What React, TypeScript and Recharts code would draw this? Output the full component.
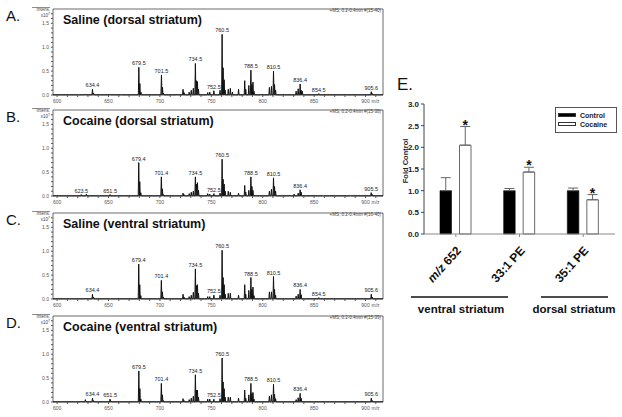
import {
  LineChart,
  Line,
  XAxis,
  YAxis,
  ReferenceArea,
  ReferenceDot,
  BarChart,
  Bar,
  ErrorBar,
  LabelList,
} from 'recharts';

type Peak = [number, number];

const FONT = '"Liberation Sans", Arial, sans-serif';

// spectra axes
const mzTicks = [600, 610, 620, 630, 640, 650, 660, 670, 680, 690, 700, 710, 720, 730, 740, 750, 760, 770, 780, 790, 800, 810, 820, 830, 840, 850, 860, 870, 880, 890, 900, 910];
const intensTicks = [0, 0.1, 0.2, 0.3, 0.4, 0.5, 0.6, 0.7, 0.8, 0.9, 1.0, 1.1, 1.2, 1.3, 1.4, 1.5, 1.6, 1.7];
const intensLabels = ['0.0', '0.5', '1.0', '1.5'];

const panelLetters = ['A.', 'B.', 'C.', 'D.'];
const panelTitles = ['Saline (dorsal striatum)', 'Cocaine (dorsal striatum)', 'Saline (ventral striatum)', 'Cocaine (ventral striatum)'];
const panelScans = ['+MS, 0.2-0.4min #(15-40)', '+MS, 0.2-0.4min #(15-38)', '+MS, 0.2-0.4min #(16-40)', '+MS, 0.2-0.4min #(15-39)'];

// peaks: [m/z, intensity x10^7]
const salineDorsalPeaks: Peak[] = [
  [620.5, 0.01], [627.5, 0.02], [634.4, 0.12], [635.4, 0.04], [651.5, 0.02], [662.5, 0.01],
  [679.5, 0.58], [680.5, 0.24], [681.5, 0.06], [701.5, 0.42], [702.5, 0.16], [703.5, 0.04],
  [716.5, 0.02], [722.5, 0.12], [723.5, 0.05], [728.5, 0.06], [730.5, 0.1], [732.5, 0.14],
  [734.5, 0.66], [735.5, 0.3], [736.5, 0.28], [737.5, 0.12], [746.5, 0.05], [748.5, 0.06],
  [752.5, 0.09], [758.5, 0.1], [760.5, 1.27], [761.5, 0.57], [762.5, 0.32], [763.5, 0.1],
  [766.5, 0.12], [768.5, 0.14], [770.5, 0.06], [776.5, 0.12], [782.5, 0.3], [783.5, 0.12],
  [786.5, 0.2], [788.5, 0.52], [789.5, 0.22], [790.5, 0.27], [791.5, 0.08], [798.5, 0.02],
  [806.5, 0.16], [808.5, 0.18], [810.5, 0.5], [811.5, 0.22], [812.5, 0.1], [820.5, 0.02],
  [832.5, 0.08], [834.5, 0.13], [836.4, 0.23], [837.4, 0.1], [838.5, 0.08], [854.5, 0.03],
  [880.5, 0.01], [905.6, 0.07], [906.6, 0.03],
];
const salineDorsalLabels = ['634.4', '679.5', '701.5', '734.5', '752.5', '760.5', '788.5', '810.5', '836.4', '854.5', '905.6'];

const cocaineDorsalPeaks: Peak[] = [
  [623.5, 0.03], [628.5, 0.04], [640.5, 0.01], [651.5, 0.03], [665.5, 0.01],
  [679.4, 0.7], [680.4, 0.3], [681.4, 0.07], [701.4, 0.4], [702.4, 0.15], [703.4, 0.03],
  [722.5, 0.06], [723.5, 0.03], [728.5, 0.05], [730.5, 0.08], [732.5, 0.1],
  [734.5, 0.4], [735.5, 0.25], [736.5, 0.28], [737.5, 0.12], [746.5, 0.05], [748.5, 0.04],
  [752.5, 0.05], [758.5, 0.06], [760.5, 0.77], [761.5, 0.35], [762.5, 0.25], [763.5, 0.1],
  [766.5, 0.1], [768.5, 0.08], [776.5, 0.06], [782.5, 0.22], [783.5, 0.08], [786.5, 0.12],
  [788.5, 0.4], [789.5, 0.2], [790.5, 0.12], [806.5, 0.1], [808.5, 0.14], [810.5, 0.38],
  [811.5, 0.2], [812.5, 0.1], [826.5, 0.02], [830.5, 0.04], [834.5, 0.06], [836.4, 0.13],
  [837.4, 0.08], [858.5, 0.01], [885.5, 0.01], [905.5, 0.07], [906.5, 0.03],
];
const cocaineDorsalLabels = ['623.5', '651.5', '679.4', '701.4', '734.5', '752.5', '760.5', '788.5', '810.5', '836.4', '905.5'];

const salineVentralPeaks: Peak[] = [
  [627.5, 0.02], [634.4, 0.1], [635.4, 0.04], [651.5, 0.01],
  [679.4, 0.73], [680.4, 0.3], [681.4, 0.07], [701.4, 0.39], [702.4, 0.15], [703.4, 0.04],
  [722.5, 0.1], [723.5, 0.04], [728.5, 0.05], [730.5, 0.08], [732.5, 0.14],
  [734.5, 0.63], [735.5, 0.28], [736.5, 0.3], [737.5, 0.12], [746.5, 0.05], [748.5, 0.05],
  [752.5, 0.08], [758.5, 0.08], [760.5, 1.02], [761.5, 0.45], [762.5, 0.3], [763.5, 0.1],
  [766.5, 0.12], [768.5, 0.12], [776.5, 0.08], [782.5, 0.3], [783.5, 0.1], [786.5, 0.18],
  [788.5, 0.45], [789.5, 0.2], [790.5, 0.25], [791.5, 0.07], [806.5, 0.15], [808.5, 0.15],
  [810.5, 0.47], [811.5, 0.2], [812.5, 0.08], [832.5, 0.06], [834.5, 0.1], [836.4, 0.2],
  [837.4, 0.09], [854.5, 0.03], [905.6, 0.1], [906.6, 0.04],
];
const salineVentralLabels = ['634.4', '679.4', '701.4', '734.5', '752.5', '760.5', '788.5', '810.5', '836.4', '854.5', '905.6'];

const cocaineVentralPeaks: Peak[] = [
  [623.5, 0.02], [627.5, 0.05], [634.4, 0.08], [635.4, 0.03], [651.5, 0.06], [652.5, 0.02],
  [679.5, 0.65], [680.5, 0.28], [681.5, 0.06], [701.4, 0.39], [702.4, 0.15], [703.4, 0.03],
  [722.5, 0.07], [723.5, 0.03], [728.5, 0.05], [730.5, 0.08], [732.5, 0.12],
  [734.5, 0.57], [735.5, 0.25], [736.5, 0.25], [737.5, 0.1], [746.5, 0.06], [748.5, 0.06],
  [752.5, 0.06], [758.5, 0.07], [760.5, 0.92], [761.5, 0.42], [762.5, 0.28], [763.5, 0.1],
  [766.5, 0.1], [768.5, 0.1], [776.5, 0.08], [782.5, 0.25], [783.5, 0.08], [786.5, 0.15],
  [788.5, 0.39], [789.5, 0.18], [790.5, 0.2], [791.5, 0.06], [806.5, 0.12], [808.5, 0.15],
  [810.5, 0.37], [811.5, 0.16], [812.5, 0.07], [832.5, 0.05], [834.5, 0.09], [836.4, 0.18],
  [837.4, 0.08], [905.6, 0.08], [906.6, 0.03],
];
const cocaineVentralLabels = ['634.4', '651.5', '679.5', '701.4', '734.5', '752.5', '760.5', '788.5', '810.5', '836.4', '905.6'];

const panelPeaks = [salineDorsalPeaks, cocaineDorsalPeaks, salineVentralPeaks, cocaineVentralPeaks];
const panelPeakLabels = [salineDorsalLabels, cocaineDorsalLabels, salineVentralLabels, cocaineVentralLabels];
const panelTops = [0, 101, 204, 307];

// panel E
const lipidGroups = ['m/z 652', '33:1 PE', '35:1 PE'];
const controlFold = [1.0, 1.0, 1.0];
const controlSem = [0.3, 0.05, 0.06];
const cocaineFold = [2.05, 1.43, 0.79];
const cocaineSem = [0.43, 0.11, 0.12];
const foldTicks = [0, 0.5, 1.0, 1.5, 2.0, 2.5, 3.0];
const legendNames = ['Control', 'Cocaine'];
const regionNames = ['ventral striatum', 'dorsal striatum'];

const BASE = 0.004;

// each peak drawn as a narrow stick from the baseline
const toTrace = (peaks: Peak[]) => [
  { mz: 596, i: BASE },
  ...peaks.flatMap(([mz, h]) => [
    { mz: mz - 0.5, i: BASE },
    { mz, i: h },
    { mz: mz + 0.5, i: BASE },
  ]),
  { mz: 917, i: BASE },
];

const MzTick = ({ x, y, payload }: any) => {
  const v = payload.value;
  if (v % 50 !== 0) return null;
  return (
    <g>
      <text x={x} y={y + 4} textAnchor='middle' fontSize={5} fill='#555' fontFamily={FONT}>
        {v}
      </text>
      {v === 900 && (
        <text x={x + 6} y={y + 4} fontSize={5} fill='#555' fontFamily={FONT}>
          m/z
        </text>
      )}
    </g>
  );
};

const intensFormat = (v: number) => {
  const s = v.toFixed(1);
  return intensLabels.includes(s) ? s : '';
};

const Spectrum = ({ k }: { k: number }) => {
  const peaks = panelPeaks[k];
  return (
    <div style={{ position: 'absolute', left: 0, top: panelTops[k] }}>
      <LineChart
        width={400}
        height={103}
        data={toTrace(peaks)}
        margin={{ top: 9, right: 17, bottom: 0, left: 33 }}
      >
        <XAxis
          dataKey='mz'
          type='number'
          domain={[596, 917]}
          ticks={mzTicks}
          interval={0}
          tick={<MzTick />}
          tickSize={2}
          tickLine={{ stroke: '#555' }}
          axisLine={false}
          height={8}
          allowDataOverflow
        />
        <YAxis
          type='number'
          domain={[0, 1.8]}
          ticks={intensTicks}
          interval={0}
          width={20}
          tickSize={2}
          tickLine={{ stroke: '#555' }}
          axisLine={false}
          tick={{ fontSize: 5, fill: '#555', fontFamily: FONT }}
          tickFormatter={intensFormat}
        />
        <ReferenceArea x1={596} x2={917} y1={0} y2={1.8} fill='none' stroke='#444' strokeWidth={0.8} />
        <Line
          dataKey='i'
          type='linear'
          stroke='#111'
          strokeWidth={1}
          dot={false}
          isAnimationActive={false}
        />
        {panelPeakLabels[k].map((lab) => {
          const mz = parseFloat(lab);
          const peak = peaks.find((p) => p[0] === mz);
          return (
            <ReferenceDot
              key={lab}
              x={mz}
              y={peak ? peak[1] : 0}
              r={0}
              fill='none'
              stroke='none'
              label={{ value: lab, position: 'top', offset: 2, fontSize: 5.5, fill: '#222', fontFamily: FONT }}
            />
          );
        })}
      </LineChart>
    </div>
  );
};

const GroupTick = ({ x, y, payload }: any) => {
  const [head, ...rest] = String(payload.value).split(' ');
  return (
    <text
      transform={`translate(${x + 6},${y + 14}) rotate(-48)`}
      textAnchor='end'
      fontSize={12}
      fontWeight='bold'
      fill='#111'
      fontFamily={FONT}
    >
      {head === 'm/z' ? (
        <>
          <tspan fontStyle='italic'>m/z</tspan>
          <tspan>{' ' + rest.join(' ')}</tspan>
        </>
      ) : (
        payload.value
      )}
    </text>
  );
};

const Asterisk = (props: any) => {
  const { x, y, width, height, value, index } = props;
  const unit = height / value;
  const top = y - cocaineSem[index] * unit;
  return (
    <text x={x + width / 2} y={top + 3} textAnchor='middle' fontSize={14} fontWeight='bold' fill='#111' fontFamily={FONT}>
      *
    </text>
  );
};

const FoldChart = () => {
  const rows = lipidGroups.map((group, k) => ({
    group,
    control: controlFold[k],
    cocaine: cocaineFold[k],
    controlErr: [0, controlSem[k]],
    cocaineErr: [0, cocaineSem[k]],
  }));
  return (
    <div style={{ position: 'absolute', left: 380, top: 90 }}>
      <BarChart
        width={242}
        height={200}
        data={rows}
        margin={{ top: 14, right: 7, bottom: 0, left: 14 }}
        barGap={8}
        barSize={11.5}
      >
        <XAxis
          dataKey='group'
          axisLine={{ stroke: '#888' }}
          tickLine={{ stroke: '#888' }}
          tickSize={3}
          tickMargin={0}
          height={56}
          interval={0}
          tick={<GroupTick />}
        />
        <YAxis
          type='number'
          domain={[0, 3]}
          ticks={foldTicks}
          interval={0}
          width={30}
          tickSize={3}
          tickMargin={2}
          axisLine={{ stroke: '#444' }}
          tickLine={{ stroke: '#444' }}
          tick={{ fontSize: 8, fontWeight: 'bold', fill: '#222', fontFamily: FONT }}
          tickFormatter={(v: number) => v.toFixed(1)}
        />
        <Bar dataKey='control' fill='#000' stroke='#000' strokeWidth={0.6} isAnimationActive={false}>
          <ErrorBar dataKey='controlErr' width={5} stroke='#666' strokeWidth={1} />
        </Bar>
        <Bar dataKey='cocaine' fill='#fff' stroke='#444' strokeWidth={0.8} isAnimationActive={false}>
          <ErrorBar dataKey='cocaineErr' width={5} stroke='#666' strokeWidth={1} />
          <LabelList dataKey='cocaine' content={<Asterisk />} />
        </Bar>
      </BarChart>
    </div>
  );
};

const Legend = () => (
  <div
    style={{
      position: 'absolute',
      left: 555,
      top: 107,
      width: 62,
      height: 26,
      border: '1px solid #555',
      boxSizing: 'border-box',
      fontFamily: FONT,
      fontSize: 7,
      fontWeight: 'bold',
      color: '#222',
    }}
  >
    {legendNames.map((name, k) => (
      <div key={name} style={{ position: 'absolute', left: 2, top: 3 + k * 9, height: 8, display: 'flex', alignItems: 'center' }}>
        <span
          style={{
            display: 'inline-block',
            width: 18,
            height: 4,
            background: k === 0 ? '#000' : '#fff',
            border: '0.8px solid #333',
            boxSizing: 'border-box',
            marginRight: 4,
          }}
        />
        {name}
      </div>
    ))}
  </div>
);

export default function App() {
  return (
    <div
      style={{
        position: 'absolute',
        left: 0,
        top: 0,
        width: 622,
        height: 417,
        background: '#fff',
        overflow: 'hidden',
        fontFamily: FONT,
      }}
    >
      {panelTops.map((_, k) => (
        <Spectrum key={k} k={k} />
      ))}
      <FoldChart />
      <Legend />
      <svg width={622} height={417} style={{ position: 'absolute', left: 0, top: 0, pointerEvents: 'none' }} fontFamily={FONT}>
        {panelTops.map((o, k) => (
          <g key={k}>
            <text x={6} y={o + 21} fontSize={15} fill='#111'>{panelLetters[k]}</text>
            <text x={63} y={o + 24} fontSize={12.5} fontWeight='bold' fill='#111'>{panelTitles[k]}</text>
            <text x={381} y={o + 12} textAnchor='end' fontSize={4.5} fill='#444'>{panelScans[k]}</text>
            <line x1={32} x2={50} y1={o + 7.5} y2={o + 7.5} stroke='#444' strokeWidth={0.6} />
            <text x={50} y={o + 11} textAnchor='end' fontSize={4.5} fill='#444'>Intens.</text>
            <text x={50} y={o + 16.5} textAnchor='end' fontSize={4.5} fill='#444'>
              x10<tspan dy={-1.5} fontSize={3.5}>7</tspan>
            </text>
          </g>
        ))}
        <text x={397} y={90} fontSize={17} fill='#111'>E.</text>
        <text transform='translate(408,161) rotate(-90)' textAnchor='middle' fontSize={7.5} fontWeight='bold' fill='#222'>
          Fold Control
        </text>
        <line x1={411} x2={508} y1={297} y2={297} stroke='#111' strokeWidth={1.3} />
        <line x1={541} x2={608} y1={297} y2={297} stroke='#111' strokeWidth={1.3} />
        <text x={461} y={313} textAnchor='middle' fontSize={11.5} fontWeight='bold' fill='#111'>{regionNames[0]}</text>
        <text x={574} y={313} textAnchor='middle' fontSize={11.5} fontWeight='bold' fill='#111'>{regionNames[1]}</text>
      </svg>
    </div>
  );
}
